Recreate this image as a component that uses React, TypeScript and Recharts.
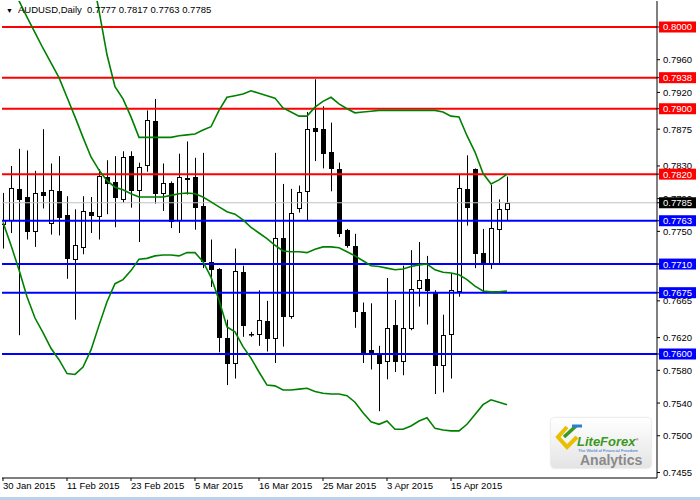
import React from 'react'
import { ComposedChart, Bar, Line, XAxis, YAxis, ReferenceLine } from 'recharts'

// daily AUDUSD bars, 30 Jan – 24 Apr 2015
const opens = [
  0.7759, 0.7764, 0.7802, 0.7792, 0.7750, 0.7798, 0.7760, 0.7799, 0.7770, 0.7716,
  0.7731, 0.7774, 0.7769, 0.7817, 0.7810, 0.7790, 0.7842, 0.7800, 0.7831, 0.7885,
  0.7797, 0.7809, 0.7764, 0.7815, 0.7816, 0.7781, 0.7713, 0.7704, 0.7620, 0.7589,
  0.7700, 0.7625, 0.7625, 0.7640, 0.7620, 0.7742, 0.7647, 0.7778, 0.7799, 0.7876,
  0.7875, 0.7847, 0.7826, 0.7752, 0.7732, 0.7651, 0.7605, 0.7599, 0.7591, 0.7636,
  0.7592, 0.7632, 0.7681, 0.7692, 0.7674, 0.7587, 0.7624, 0.7677, 0.7802, 0.7826,
  0.7724, 0.7710, 0.7753, 0.7777,
]
const highs = [
  0.7797, 0.7830, 0.7851, 0.7849, 0.7824, 0.7875, 0.7833, 0.7842, 0.7793, 0.7777,
  0.7793, 0.7792, 0.7826, 0.7837, 0.7842, 0.7848, 0.7848, 0.7834, 0.7898, 0.7912,
  0.7833, 0.7811, 0.7845, 0.7860, 0.7840, 0.7846, 0.7740, 0.7705, 0.7642, 0.7729,
  0.7708, 0.7627, 0.7678, 0.7665, 0.7846, 0.7808, 0.7802, 0.7806, 0.7896, 0.7936,
  0.7903, 0.7883, 0.7834, 0.7753, 0.7747, 0.7663, 0.7662, 0.7610, 0.7693, 0.7666,
  0.7708, 0.7727, 0.7737, 0.7720, 0.7678, 0.7648, 0.7699, 0.7819, 0.7843, 0.7827,
  0.7753, 0.7807, 0.7789, 0.7817,
]
const lows = [
  0.7729, 0.7748, 0.7623, 0.7740, 0.7731, 0.7778, 0.7746, 0.7745, 0.7692, 0.7642,
  0.7722, 0.7748, 0.7740, 0.7771, 0.7755, 0.7785, 0.7779, 0.7737, 0.7823, 0.7784,
  0.7775, 0.7754, 0.7748, 0.7795, 0.7752, 0.7705, 0.7682, 0.7602, 0.7562, 0.7570,
  0.7621, 0.7621, 0.7610, 0.7603, 0.7589, 0.7609, 0.7643, 0.7773, 0.7763, 0.7836,
  0.7827, 0.7799, 0.7743, 0.7730, 0.7632, 0.7589, 0.7581, 0.7530, 0.7569, 0.7578,
  0.7574, 0.7629, 0.7658, 0.7636, 0.7551, 0.7553, 0.7570, 0.7670, 0.7757, 0.7705,
  0.7676, 0.7704, 0.7710, 0.7763,
]
const closes = [
  0.7764, 0.7803, 0.7790, 0.7751, 0.7797, 0.7795, 0.7801, 0.7768, 0.7717, 0.7733,
  0.7775, 0.7770, 0.7818, 0.7809, 0.7792, 0.7841, 0.7801, 0.7829, 0.7886, 0.7797,
  0.7809, 0.7763, 0.7816, 0.7814, 0.7780, 0.7714, 0.7704, 0.7621, 0.7589, 0.7702,
  0.7636, 0.7624, 0.7642, 0.7620, 0.7742, 0.7646, 0.7773, 0.7798, 0.7875, 0.7873,
  0.7846, 0.7827, 0.7748, 0.7733, 0.7652, 0.7603, 0.7600, 0.7589, 0.7632, 0.7591,
  0.7632, 0.7680, 0.7691, 0.7678, 0.7587, 0.7623, 0.7678, 0.7803, 0.7780, 0.7723,
  0.7710, 0.7754, 0.7777, 0.7785,
]

// Bollinger bands (20)
const bbUpper = [
  0.8379, 0.8367, 0.8361, 0.8354, 0.8342, 0.8322, 0.8305, 0.8283, 0.8252, 0.8205,
  0.8146, 0.8070, 0.8020, 0.7966, 0.7927, 0.7912, 0.7890, 0.7865, 0.7865, 0.7865,
  0.7865, 0.7865, 0.7867, 0.7868, 0.7869, 0.7874, 0.7878, 0.7898, 0.7914, 0.7916,
  0.7918, 0.7922, 0.7919, 0.7916, 0.7913, 0.7901, 0.7896, 0.7891, 0.7891, 0.7902,
  0.7909, 0.7914, 0.7906, 0.7900, 0.7895, 0.7896, 0.7897, 0.7898, 0.7898, 0.7898,
  0.7898, 0.7898, 0.7898, 0.7898, 0.7898, 0.7896, 0.7891, 0.7890, 0.7867, 0.7847,
  0.7821, 0.7808, 0.7813, 0.7820,
]
const bbMiddle = [
  0.8070, 0.8050, 0.8032, 0.8012, 0.7993, 0.7974, 0.7956, 0.7938, 0.7914, 0.7890,
  0.7865, 0.7841, 0.7825, 0.7812, 0.7804, 0.7801, 0.7796, 0.7792, 0.7792, 0.7792,
  0.7792, 0.7794, 0.7796, 0.7797, 0.7796, 0.7792, 0.7786, 0.7780, 0.7774, 0.7771,
  0.7764, 0.7755, 0.7748, 0.7741, 0.7733, 0.7726, 0.7725, 0.7725, 0.7724, 0.7728,
  0.7731, 0.7731, 0.7730, 0.7725, 0.7720, 0.7714, 0.7708, 0.7707, 0.7705, 0.7703,
  0.7704, 0.7707, 0.7709, 0.7710, 0.7703, 0.7700, 0.7699, 0.7697, 0.7691, 0.7683,
  0.7677, 0.7676, 0.7676, 0.7677,
]
const bbLower = [
  0.7761, 0.7733, 0.7703, 0.7670, 0.7644, 0.7626, 0.7607, 0.7593, 0.7576, 0.7575,
  0.7584, 0.7605, 0.7635, 0.7664, 0.7686, 0.7691, 0.7702, 0.7716, 0.7717, 0.7720,
  0.7721, 0.7721, 0.7720, 0.7724, 0.7724, 0.7713, 0.7694, 0.7666, 0.7633, 0.7627,
  0.7609, 0.7595, 0.7578, 0.7562, 0.7561, 0.7556, 0.7556, 0.7557, 0.7558, 0.7554,
  0.7552, 0.7551, 0.7551, 0.7549, 0.7541, 0.7528, 0.7517, 0.7514, 0.7518, 0.7508,
  0.7508, 0.7512, 0.7518, 0.7522, 0.7509, 0.7507, 0.7506, 0.7506, 0.7514, 0.7526,
  0.7538, 0.7544, 0.7541, 0.7538,
]

const dateTicks = [0, 8, 16, 24, 32, 40, 48, 56]
const dateLabels = ['30 Jan 2015', '11 Feb 2015', '23 Feb 2015', '5 Mar 2015', '16 Mar 2015', '25 Mar 2015', '3 Apr 2015', '15 Apr 2015']
const priceTicks = [0.7455, 0.75, 0.754, 0.758, 0.762, 0.7665, 0.771, 0.775, 0.779, 0.783, 0.7875, 0.792, 0.796]
const resistance = [0.8, 0.7938, 0.79, 0.782]
const support = [0.7763, 0.771, 0.7675, 0.76]

const FONT = '"Liberation Sans", Arial, sans-serif'
const last = opens.length - 1
const lastPrice = closes[last]

// price tags on the right scale are drawn as extra ticks, after the plain ones, so they sit on top
const tagColor = new Map<number, string>()
tagColor.set(lastPrice, '#000')
resistance.forEach((v) => tagColor.set(v, '#ff0000'))
support.forEach((v) => tagColor.set(v, '#0000ff'))
const axisTicks = [...priceTicks, lastPrice, ...resistance, ...support]
let tickCount = 0

const data = opens.map((open, i) => ({
  i,
  open,
  high: highs[i],
  low: lows[i],
  close: closes[i],
  range: [lows[i], highs[i]],
  upper: bbUpper[i],
  middle: bbMiddle[i],
  lower: bbLower[i],
}))

function Candle(props: any) {
  const { x, y, width, height, payload } = props
  if (x == null || y == null) return null
  const { open, close, high, low } = payload
  const cx = Math.round(x + width / 2) + 0.5
  const span = high - low
  const toY = (v: number) => (span === 0 ? y : y + ((high - v) / span) * height)
  const up = close >= open
  const top = Math.round(toY(Math.max(open, close))) + 0.5
  const bot = Math.round(toY(Math.min(open, close))) + 0.5
  return (
    <g>
      <line x1={cx} x2={cx} y1={y} y2={y + height} stroke="#000" strokeWidth={1} />
      <rect x={cx - 2} y={top} width={4} height={Math.max(bot - top, 0.5)} fill={up ? '#fff' : '#000'} stroke="#000" strokeWidth={1} />
    </g>
  )
}

function DateTick(props: any) {
  const { x, y, payload } = props
  const idx = dateTicks.indexOf(payload.value)
  return (
    <text x={x} y={y + 6} textAnchor="start" fontSize={9.5} fontFamily={FONT} fill="#000">
      {dateLabels[idx]}
    </text>
  )
}

function PriceTick(props: any) {
  const { x, y, payload, index } = props
  const v = payload.value
  const isTag = index >= priceTicks.length && tagColor.has(v)
  if (isTag) {
    return (
      <g>
        <rect x={x - 4} y={y - 5.5} width={37} height={11} fill={tagColor.get(v)} />
        <text x={x} y={y + 3.5} textAnchor="start" fontSize={9.5} fontFamily={FONT} fill="#fff">
          {v.toFixed(4)}
        </text>
      </g>
    )
  }
  return (
    <text x={x} y={y + 3.5} textAnchor="start" fontSize={9.5} fontFamily={FONT} fill="#000">
      {v.toFixed(4)}
    </text>
  )
}

export default function App() {
  tickCount = 0
  return (
    <div style={{ position: 'absolute', left: 0, top: 0, width: 700, height: 500, background: '#fff', overflow: 'hidden' }}>
      <ComposedChart width={700} height={500} data={data} margin={{ top: 1, right: 0, bottom: 0, left: 2 }}>
        <XAxis
          dataKey="i"
          type="number"
          domain={[-0.125, 81.75]}
          allowDataOverflow
          ticks={dateTicks}
          interval={0}
          tick={<DateTick />}
          tickSize={3}
          height={22}
          axisLine={{ stroke: '#000' }}
          tickLine={{ stroke: '#000' }}
        />
        <YAxis
          orientation="right"
          type="number"
          domain={[0.74483, 0.80318]}
          allowDataOverflow
          ticks={axisTicks}
          interval={0}
          tick={<PriceTick />}
          tickSize={3}
          tickMargin={3}
          width={43}
          axisLine={{ stroke: '#000' }}
          tickLine={{ stroke: '#000' }}
        />
        <ReferenceLine y={lastPrice} stroke="#c0c0c0" strokeWidth={1} />
        {resistance.map((v) => (
          <ReferenceLine key={'r' + v} y={v} stroke="#ff0000" strokeWidth={2} />
        ))}
        {support.map((v) => (
          <ReferenceLine key={'s' + v} y={v} stroke="#0000ff" strokeWidth={2} />
        ))}
        <Line dataKey="upper" type="linear" stroke="#008000" strokeWidth={1.6} dot={false} isAnimationActive={false} />
        <Line dataKey="middle" type="linear" stroke="#008000" strokeWidth={1.6} dot={false} isAnimationActive={false} />
        <Line dataKey="lower" type="linear" stroke="#008000" strokeWidth={1.6} dot={false} isAnimationActive={false} />
        <Bar dataKey="range" barSize={5} shape={<Candle />} isAnimationActive={false} />
      </ComposedChart>

      <div style={{ position: 'absolute', left: 6, top: 3, fontFamily: FONT, fontSize: 9.5, color: '#000', whiteSpace: 'pre', lineHeight: '14px' }}>
        <span style={{ fontSize: 7, marginRight: 5 }}>▼</span>
        {'AUDUSD,Daily  ' + [opens[last], highs[last], lows[last], closes[last]].map((v) => v.toFixed(4)).join(' ')}
      </div>

      <div
        style={{
          position: 'absolute', left: 551, top: 418, width: 100, height: 50, borderRadius: 4,
          background: 'linear-gradient(#ffffff, #e4e4e4)', boxShadow: '0 0 2px #bbb', fontFamily: FONT,
        }}
      >
        <svg width={30} height={28} style={{ position: 'absolute', left: 4, top: 5 }}>
          <polyline points="12,4 3,14 12,24 22,14" fill="none" stroke="#e8c000" strokeWidth={4} />
          <line x1={9} y1={14} x2={21} y2={3} stroke="#3a9a1e" strokeWidth={3.5} />
          <line x1={17} y1={3} x2={27} y2={3} stroke="#2a7fd4" strokeWidth={3} />
        </svg>
        <div style={{ position: 'absolute', left: 26, top: 16, fontSize: 13, fontWeight: 'bold', fontStyle: 'italic', color: '#3a9a1e', whiteSpace: 'nowrap' }}>
          LiteForex<sup style={{ fontSize: 4, color: '#d03030' }}>®</sup>
        </div>
        <div style={{ position: 'absolute', left: 27, top: 30, fontSize: 4.2, color: '#2a6fc4', whiteSpace: 'nowrap' }}>
          The World of Financial Freedom
        </div>
        <div style={{ position: 'absolute', left: 29, top: 34, fontSize: 14, fontWeight: 'bold', color: '#8a8a8a' }}>
          Analytics
        </div>
      </div>

      <div style={{ position: 'absolute', left: 0, top: 497, width: 700, height: 3, background: '#bcd2ea' }} />
    </div>
  )
}
